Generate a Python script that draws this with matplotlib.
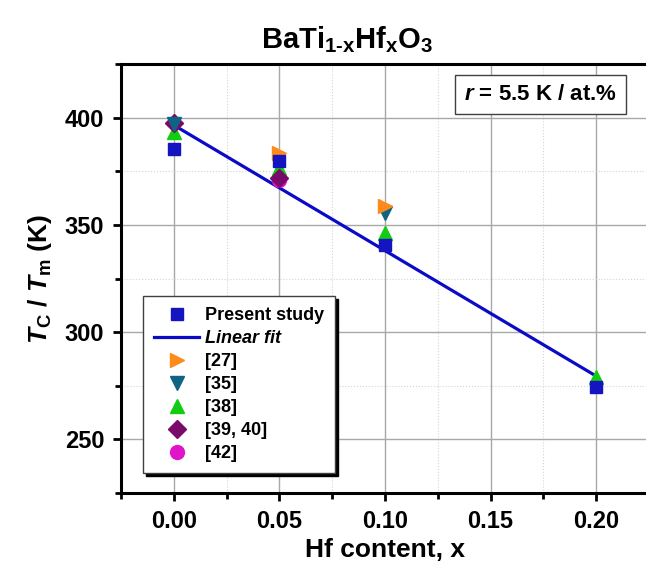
import numpy as np
import matplotlib
matplotlib.use("Agg")
import matplotlib.pyplot as plt
from matplotlib.ticker import MultipleLocator

plt.rcParams["font.family"] = ["Liberation Sans", "DejaVu Sans"]
plt.rcParams["font.weight"] = "bold"
plt.rcParams["mathtext.fontset"] = "custom"
plt.rcParams["mathtext.rm"] = "Liberation Sans:bold"
plt.rcParams["mathtext.bf"] = "Liberation Sans:bold"
plt.rcParams["mathtext.it"] = "Liberation Sans:italic:bold"

# データ
present_x = [0.00, 0.05, 0.10, 0.20]
present_y = [385.5, 380.0, 340.5, 274.5]

fit_x = [0.00, 0.20]
fit_y = [396.5, 279.5]

ref27_x = [0.05, 0.10]
ref27_y = [383.5, 359.0]

ref35_x = [0.00, 0.10]
ref35_y = [397.0, 355.5]

ref38_x = [0.00, 0.05, 0.10, 0.20]
ref38_y = [393.5, 376.5, 346.0, 279.0]

ref39_x = [0.00, 0.05]
ref39_y = [397.5, 372.0]

ref42_x = [0.05]
ref42_y = [371.0]

fig = plt.figure(figsize=(6.46, 5.68), dpi=100)
ax = fig.add_axes([121 / 646, 75 / 568, 528 / 646, 429 / 568])

ms = 10.5
ax.plot(fit_x, fit_y, color="#0a0ac8", lw=2.3, label="Linear fit", zorder=3)
ax.plot(ref38_x, ref38_y, "^", color="#12cc12", ms=ms, label="[38]", zorder=4)
ax.plot(present_x, present_y, "s", color="#1414c0", ms=ms - 1.5, label="Present study", zorder=5)
ax.plot(ref39_x, ref39_y, "D", color="#7a0a6a", ms=ms - 1.5, label="[39, 40]", zorder=4)
ax.plot(ref42_x, ref42_y, "o", color="#e014c8", ms=ms - 0.5, label="[42]", zorder=3)
ax.plot(ref35_x, ref35_y, "v", color="#0e6482", ms=ms, label="[35]", zorder=4)
ax.plot(ref27_x, ref27_y, ">", color="#ff8a1c", ms=ms, label="[27]", zorder=4)

ax.set_xlim(-0.025, 0.225)
ax.set_ylim(225, 425)
ax.xaxis.set_major_locator(MultipleLocator(0.05))
ax.xaxis.set_minor_locator(MultipleLocator(0.025))
ax.yaxis.set_major_locator(MultipleLocator(50))
ax.yaxis.set_minor_locator(MultipleLocator(25))
ax.set_xticks([0.0, 0.05, 0.10, 0.15, 0.20])
ax.set_xticklabels(["0.00", "0.05", "0.10", "0.15", "0.20"])

ax.grid(True, which="major", color="#a8a8a8", lw=1.0, ls="-", zorder=0)
ax.grid(True, which="minor", color="#d4d4d4", lw=0.8, ls=":", zorder=0)
ax.set_axisbelow(True)

for s in ["left", "bottom", "top"]:
    ax.spines[s].set_linewidth(2.2)
ax.spines["right"].set_visible(False)
ax.tick_params(which="major", direction="out", length=6, width=2, labelsize=17, pad=6)
ax.tick_params(which="minor", direction="out", length=4, width=2)
ax.tick_params(top=False, right=False, which="both")

ax.set_xlabel("Hf content, x", fontsize=19, fontweight="bold", labelpad=4)
ax.set_ylabel(r"$T_{\rm C}$ / $T_{\rm m}$ (K)", fontsize=19, fontweight="bold", labelpad=8)

fig.text(347 / 646, 1 - 48 / 568, r"$\mathbf{BaTi_{1\text{-}x}Hf_xO_3}$", fontsize=21,
         ha="center", va="baseline")

ax.text(0.795, 0.928, r"$r$ = 5.5 K / at.%", transform=ax.transAxes, fontsize=16,
        fontweight="bold", ha="center", va="center",
        bbox=dict(boxstyle="square,pad=0.4", fc="white", ec="#404040", lw=1.0))

# 凡例の順番
handles, labels = ax.get_legend_handles_labels()
order = ["Present study", "Linear fit", "[27]", "[35]", "[38]", "[39, 40]", "[42]"]
hmap = dict(zip(labels, handles))
leg = ax.legend([hmap[k] for k in order], order, loc="lower left",
                bbox_to_anchor=(0.042, 0.047), borderaxespad=0, fontsize=13,
                frameon=True, fancybox=False, edgecolor="#404040", numpoints=1,
                handlelength=2.5, handletextpad=0.35, labelspacing=0.33,
                borderpad=0.6, shadow={"color": "black", "alpha": 1.0})
leg.get_frame().set_linewidth(1.0)
for t in leg.get_texts():
    if t.get_text() == "Linear fit":
        t.set_fontstyle("italic")

fig.savefig("out.png", dpi=100)
